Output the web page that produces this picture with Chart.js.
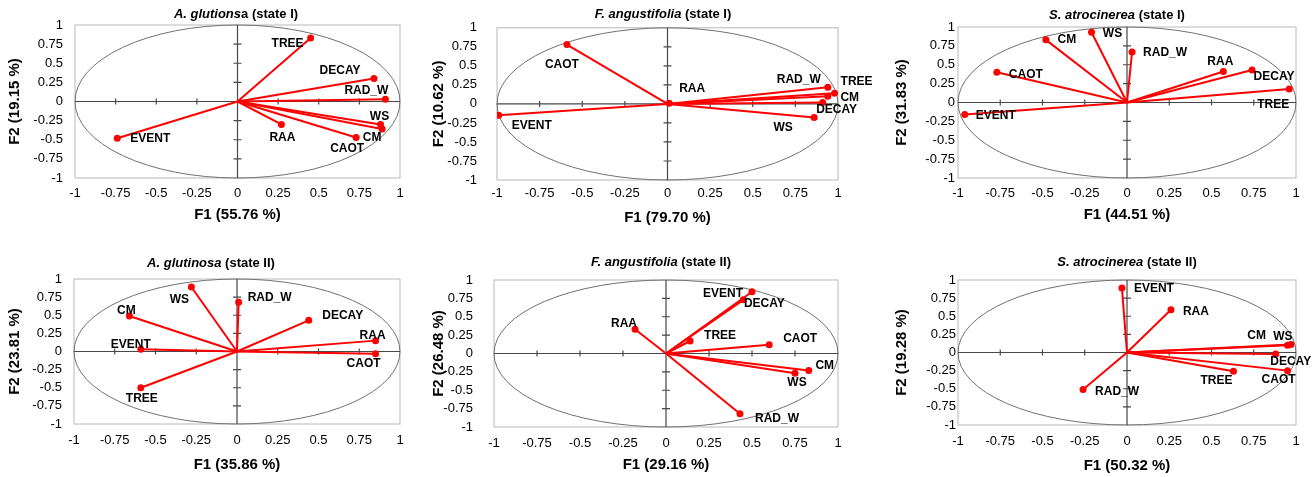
<!DOCTYPE html>
<html>
<head>
<meta charset="utf-8">
<script src="https://cdn.jsdelivr.net/npm/chart.js@4.4.1/dist/chart.umd.min.js"></script>
<style>
  html, body { margin: 0; padding: 0; background: #fff; }
  #figure { position: relative; width: 1316px; height: 477px; overflow: hidden; }
  #figure canvas { position: absolute; }
</style>
</head>
<body>
<div id="figure"></div>
<script>
// variables shown in every correlation circle
const variables = ['TREE', 'DECAY', 'RAD_W', 'WS', 'CM', 'CAOT', 'RAA', 'EVENT']
const axisTicks = [-1, -0.75, -0.5, -0.25, 0, 0.25, 0.5, 0.75, 1]

// panel titles (italic species part + upright state part)
const speciesText = ['A. glutions', 'F. angustifolia', 'S. atrocinerea', 'A. glutinosa', 'F. angustifolia', 'S. atrocinerea']
const stateText = ['a (state I)', ' (state I)', ' (state I)', ' (state II)', ' (state II)', ' (state II)']

// % of variance for each factor
const f1Inertia = ['55.76', '79.70', '44.51', '35.86', '29.16', '50.32']
const f2Inertia = ['19.15', '10.62', '31.83', '23.81', '26.48', '19.28']

// correlations with F1 / F2, same order as variables
// A. glutinosa, state I
const agI_f1 = [0.45, 0.84, 0.91, 0.88, 0.89, 0.73, 0.27, -0.74]
const agI_f2 = [0.83, 0.30, 0.03, -0.30, -0.36, -0.47, -0.30, -0.48]
// F. angustifolia, state I
const faI_f1 = [0.98, 0.91, 0.94, 0.86, 0.94, -0.59, 0.01, -0.99]
const faI_f2 = [0.14, 0.02, 0.22, -0.18, 0.10, 0.78, 0.01, -0.15]
// S. atrocinerea, state I
const saI_f1 = [0.96, 0.74, 0.03, -0.21, -0.48, -0.77, 0.57, -0.96]
const saI_f2 = [0.18, 0.43, 0.67, 0.93, 0.83, 0.40, 0.41, -0.16]
// A. glutinosa, state II
const agII_f1 = [-0.59, 0.44, 0.01, -0.28, -0.66, 0.85, 0.85, -0.59]
const agII_f2 = [-0.50, 0.43, 0.68, 0.89, 0.49, -0.03, 0.15, 0.03]
// F. angustifolia, state II
const faII_f1 = [0.14, 0.45, 0.43, 0.75, 0.83, 0.60, -0.18, 0.50]
const faII_f2 = [0.17, 0.73, -0.82, -0.27, -0.23, 0.12, 0.33, 0.84]
// S. atrocinerea, state II
const saII_f1 = [0.63, 0.88, -0.26, 0.97, 0.95, 0.95, 0.26, -0.03]
const saII_f2 = [-0.26, -0.02, -0.51, 0.11, 0.10, -0.25, 0.59, 0.89]

const f1Values = [agI_f1, faI_f1, saI_f1, agII_f1, faII_f1, saII_f1]
const f2Values = [agI_f2, faI_f2, saI_f2, agII_f2, faII_f2, saII_f2]

// where each variable name sits relative to its point (px)
const labelOffsets = [
  [[-23, 6], [-34, -8], [-19, -9], [-1, -8], [-10, 9], [-9, 11], [1, 13], [33, 0]],
  [[22, -12], [14, 7], [-29, -7], [-31, 10], [22, 1], [-5, 20], [23, -14], [33, 10]],
  [[-16, 16], [22, 7], [33, 1], [21, 1], [21, 0], [29, 2], [-3, -10], [31, 1]],
  [[1, 11], [34, -5], [31, -5], [-12, 13], [-3, -5], [-12, 10], [-3, -5], [-10, -5]],
  [[30, -5], [21, 4], [37, 5], [2, 9], [16, -5], [31, -6], [-11, -6], [-29, 2]],
  [[-17, 9], [15, 8], [34, 2], [-8, -8], [-31, -10], [-9, 9], [25, 2], [32, 1]],
]

// canvas placement and plot box of each panel
const panelLayout = [
  { x: 0, y: 0, w: 430, h: 237, left: 75, right: 400, top: 25, bottom: 178, yTickPad: 12, yTitle: 15, xTickPad: 8, xTitle: 22, titleX: 236, titleY: 14 },
  { x: 430, y: 0, w: 446, h: 237, left: 67, right: 408, top: 25, bottom: 180, yTickPad: 20, yTitle: 8, xTickPad: 6, xTitle: 19, titleX: 233, titleY: 14 },
  { x: 870, y: 0, w: 446, h: 237, left: 88, right: 426, top: 27, bottom: 178, yTickPad: 3, yTitle: 32, xTickPad: 8, xTitle: 22, titleX: 247, titleY: 15 },
  { x: 0, y: 237, w: 430, h: 240, left: 74, right: 400, top: 42, bottom: 187, yTickPad: 12, yTitle: 15, xTickPad: 9, xTitle: 12, titleX: 211, titleY: 26 },
  { x: 430, y: 237, w: 446, h: 240, left: 64, right: 408, top: 43, bottom: 190, yTickPad: 21, yTitle: 8, xTickPad: 9, xTitle: 12, titleX: 231, titleY: 25 },
  { x: 870, y: 237, w: 446, h: 240, left: 88, right: 426, top: 43, bottom: 188, yTickPad: 2, yTitle: 32, xTickPad: 9, xTitle: 11, titleX: 257, titleY: 25 },
]

const RED = '#ff0000'
const FONT = "Arial, 'Liberation Sans', sans-serif"

const fmtTick = (v) => String(Math.round(v * 100) / 100)

// box, unit circle and the axes through the origin
const circlePlugin = {
  id: 'circle',
  beforeDatasetsDraw(chart) {
    const { ctx, chartArea: a, scales: { x, y } } = chart
    const cx = x.getPixelForValue(0)
    const cy = y.getPixelForValue(0)
    ctx.save()
    ctx.strokeStyle = '#b9b9b9'
    ctx.lineWidth = 1
    ctx.strokeRect(a.left, a.top, a.right - a.left, a.bottom - a.top)

    ctx.strokeStyle = '#707070'
    ctx.beginPath()
    ctx.ellipse(cx, cy, x.getPixelForValue(1) - cx, cy - y.getPixelForValue(1), 0, 0, Math.PI * 2)
    ctx.stroke()

    ctx.strokeStyle = '#474747'
    ctx.lineWidth = 1.2
    ctx.beginPath()
    ctx.moveTo(a.left, cy)
    ctx.lineTo(a.right, cy)
    ctx.moveTo(cx, a.top)
    ctx.lineTo(cx, a.bottom)
    axisTicks.forEach((v) => {
      if (v === 0 || Math.abs(v) === 1) return
      const px = x.getPixelForValue(v)
      const py = y.getPixelForValue(v)
      ctx.moveTo(px, cy - 3)
      ctx.lineTo(px, cy + 3)
      ctx.moveTo(cx - 4, py)
      ctx.lineTo(cx + 4, py)
    })
    ctx.stroke()
    ctx.restore()
  },
}

// variable names next to the points, and the panel title
const labelPlugin = {
  id: 'varLabels',
  afterDatasetsDraw(chart, args, opts) {
    const { ctx } = chart
    ctx.save()
    ctx.fillStyle = '#000'
    ctx.font = `bold 12px ${FONT}`
    ctx.textAlign = 'center'
    ctx.textBaseline = 'middle'
    variables.forEach((name, k) => {
      const pt = chart.getDatasetMeta(k).data[1]
      const off = opts.offsets[k]
      ctx.fillText(name, pt.x + off[0], pt.y + off[1])
    })

    const italic = `italic bold 13px ${FONT}`
    const upright = `bold 13px ${FONT}`
    ctx.font = italic
    const w1 = ctx.measureText(opts.species).width
    ctx.font = upright
    const w2 = ctx.measureText(opts.state).width
    const start = opts.titleX - (w1 + w2) / 2
    ctx.textAlign = 'left'
    ctx.font = italic
    ctx.fillText(opts.species, start, opts.titleY)
    ctx.font = upright
    ctx.fillText(opts.state, start + w1, opts.titleY)
    ctx.restore()
  },
}

function axisOptions(L, isX, titleText) {
  return {
    type: 'linear',
    min: -1,
    max: 1,
    afterBuildTicks: (s) => {
      s.ticks = axisTicks.map((v) => ({ value: v }))
    },
    ticks: {
      autoSkip: false,
      maxRotation: 0,
      color: '#000',
      padding: isX ? L.xTickPad : L.yTickPad,
      font: { family: FONT, size: 13 },
      callback: fmtTick,
    },
    grid: { display: false, drawTicks: false },
    border: { display: false },
    title: {
      display: true,
      text: titleText,
      color: '#000',
      font: { family: FONT, size: 15, weight: 'bold' },
      padding: isX ? { top: 0, bottom: Math.max(0, L.xTitle - 9) } : { top: Math.max(0, L.yTitle - 9), bottom: 0 },
    },
    afterFit: (s) => {
      if (isX) s.height = L.h - L.bottom
      else s.width = L.left
    },
  }
}

const figure = document.getElementById('figure')

panelLayout.forEach((L, i) => {
  const canvas = document.createElement('canvas')
  canvas.width = L.w
  canvas.height = L.h
  canvas.style.left = `${L.x}px`
  canvas.style.top = `${L.y}px`
  canvas.style.width = `${L.w}px`
  canvas.style.height = `${L.h}px`
  figure.appendChild(canvas)

  const datasets = variables.map((name, k) => ({
    label: name,
    data: [{ x: 0, y: 0 }, { x: f1Values[i][k], y: f2Values[i][k] }],
    showLine: true,
    borderColor: RED,
    borderWidth: 2,
    pointRadius: [0, 3.5],
    pointBackgroundColor: RED,
    pointBorderWidth: 0,
  }))

  new Chart(canvas, {
    type: 'scatter',
    data: { datasets },
    options: {
      responsive: false,
      devicePixelRatio: 1,
      animation: false,
      layout: { padding: { left: 0, top: L.top, right: L.w - L.right, bottom: 0 } },
      scales: {
        x: axisOptions(L, true, `F1 (${f1Inertia[i]} %)`),
        y: axisOptions(L, false, `F2 (${f2Inertia[i]} %)`),
      },
      plugins: {
        legend: { display: false },
        tooltip: { enabled: false },
        varLabels: {
          offsets: labelOffsets[i],
          species: speciesText[i],
          state: stateText[i],
          titleX: L.titleX,
          titleY: L.titleY,
        },
      },
    },
    plugins: [circlePlugin, labelPlugin],
  })
})
</script>
</body>
</html>
